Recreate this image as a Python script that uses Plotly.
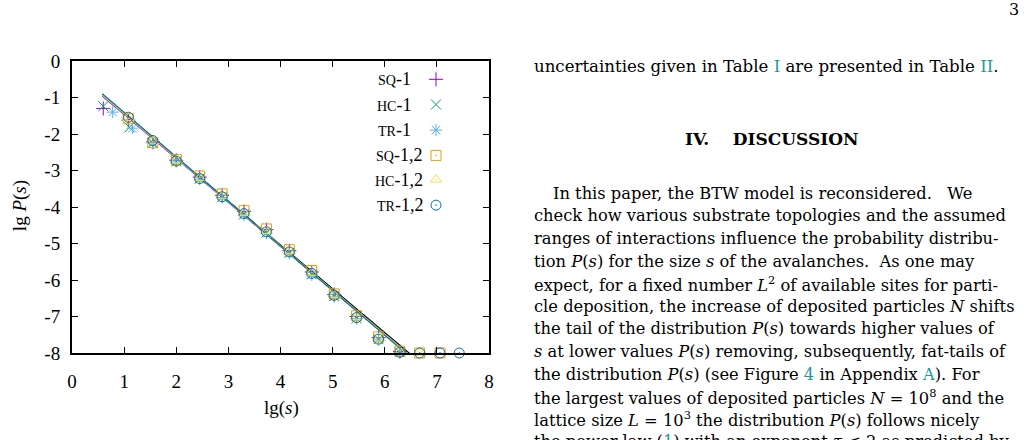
import plotly.graph_objects as go

# ---------------- data ----------------
series_names = ["sq-1", "hc-1", "tr-1", "sq-1,2", "hc-1,2", "tr-1,2"]
series_labels = ["<span style='font-size:14px'>SQ</span>-1",
                 "<span style='font-size:14px'>HC</span>-1",
                 "<span style='font-size:14px'>TR</span>-1",
                 "<span style='font-size:14px'>SQ</span>-1,2",
                 "<span style='font-size:14px'>HC</span>-1,2",
                 "<span style='font-size:14px'>TR</span>-1,2"]
series_colors = ["#9400D3", "#009E73", "#56B4E9", "#E69F00", "#F0E442", "#0072B2"]
series_symbols = ["cross-thin-open", "x-thin-open", "asterisk-open",
                  "square-open-dot", "triangle-up-open-dot", "circle-open-dot"]

sq1_x = [0.60, 1.08, 1.55, 2.00, 2.45, 2.88, 3.30, 3.73, 4.17, 4.60, 5.03, 5.46, 5.88, 6.29]
sq1_y = [-1.30, -1.62, -2.22, -2.72, -3.18, -3.68, -4.12, -4.62, -5.20, -5.78, -6.40, -7.00, -7.58, -7.96]
hc1_x = [0.60, 1.10, 1.55, 2.00, 2.45, 2.88, 3.30, 3.73, 4.17, 4.60, 5.03, 5.46, 5.88, 6.29]
hc1_y = [-1.24, -1.82, -2.24, -2.75, -3.22, -3.72, -4.20, -4.70, -5.25, -5.84, -6.44, -7.05, -7.62, -7.98]
tr1_x = [0.78, 1.16, 1.55, 2.00, 2.45, 2.88, 3.30, 3.73, 4.17, 4.60, 5.03, 5.46, 5.88, 6.29]
tr1_y = [-1.40, -1.84, -2.26, -2.74, -3.24, -3.74, -4.22, -4.72, -5.27, -5.86, -6.46, -7.06, -7.64, -7.99]
sq12_x = [1.08, 1.55, 2.00, 2.45, 2.88, 3.30, 3.73, 4.17, 4.60, 5.03, 5.46, 5.88, 6.29, 6.67, 7.06]
sq12_y = [-1.58, -2.24, -2.70, -3.15, -3.64, -4.10, -4.60, -5.17, -5.74, -6.38, -6.98, -7.56, -7.95, -8.00, -8.00]
hc12_x = [1.08, 1.55, 2.00, 2.45, 2.88, 3.30, 3.73, 4.17, 4.60, 5.03, 5.46, 5.88, 6.29, 6.67]
hc12_y = [-1.56, -2.20, -2.72, -3.20, -3.70, -4.16, -4.66, -5.21, -5.80, -6.41, -7.02, -7.60, -7.97, -8.00]
tr12_x = [1.08, 1.55, 2.00, 2.45, 2.88, 3.30, 3.73, 4.17, 4.60, 5.03, 5.46, 5.88, 6.29, 6.67, 7.06, 7.43]
tr12_y = [-1.54, -2.18, -2.74, -3.22, -3.72, -4.18, -4.68, -5.23, -5.82, -6.42, -7.03, -7.62, -7.98, -8.00, -8.00, -8.00]

series_x = [sq1_x, hc1_x, tr1_x, sq12_x, hc12_x, tr12_x]
series_y = [sq1_y, hc1_y, tr1_y, sq12_y, hc12_y, tr12_y]

# fitted power-law lines lgP = a + b*lg(s)  (black reference line first, drawn underneath)
fit_colors = ["#000000"] + series_colors
fit_intercept = [-0.24, -0.26, -0.22, -0.20, -0.21, -0.23, -0.19]
fit_slope = [-1.200, -1.205, -1.212, -1.218, -1.214, -1.210, -1.220]
fit_range = [0.58, 6.8]

x_ticks = [0, 1, 2, 3, 4, 5, 6, 7, 8]
x_ticklabels = ["0", "1", "2", "3", "4", "5", "6", "7", "8"]
y_ticks = [0, -1, -2, -3, -4, -5, -6, -7, -8]
y_ticklabels = ["0", "-1", "-2", "-3", "-4", "-5", "-6", "-7", "-8"]

TEAL = "#1a9a9a"


def link(t):
    return "<span style='color:" + TEAL + "'>" + t + "</span>"


NB = "\u00a0"
page_number = "3"
para_top = ("uncertainties given in Table " + link("I") + " are presented in Table "
            + link("II") + ".")
heading = "<b>IV." + NB * 4 + "DISCUSSION</b>"
para_lines = [
    "In this paper, the BTW model is reconsidered." + NB * 3 + "We",
    "check how various substrate topologies and the assumed",
    "ranges of interactions influence the probability distribu-",
    "tion <i>P</i>(<i>s</i>) for the size <i>s</i> of the avalanches." + NB * 2 + "As one may",
    "expect, for a fixed number <i>L</i><sup>2</sup> of available sites for parti-",
    "cle deposition, the increase of deposited particles <i>N</i> shifts",
    "the tail of the distribution <i>P</i>(<i>s</i>) towards higher values of",
    "<i>s</i> at lower values <i>P</i>(<i>s</i>) removing, subsequently, fat-tails of",
    "the distribution <i>P</i>(<i>s</i>) (see Figure " + link("4") + " in Appendix "
    + link("A") + ")." + NB + "For",
    "the largest values of deposited particles <i>N</i> = 10<sup>8</sup> and the",
    "lattice size <i>L</i> = 10<sup>3</sup> the distribution <i>P</i>(<i>s</i>) follows nicely",
    "the power law (" + link("1") + ") with an exponent <i>τ</i> ≤ 2 as predicted by",
]

# ---------------- layout geometry ----------------
W, H = 1029, 440
L, R, T, B = 72, 489, 61, 352.7
FONT = "Liberation Serif"
TEXT_FONT = "DejaVu Serif"


def px(xp):
    return (xp - L) / (R - L)


def py(yp):
    return (B - yp) / (B - T)


fig = go.Figure()

# fit lines
for a, b, c in zip(fit_intercept, fit_slope, fit_colors):
    xs = fit_range
    ys = [a + b * v for v in xs]
    fig.add_trace(go.Scatter(x=xs, y=ys, mode="lines",
                             line=dict(color=c, width=1.2),
                             showlegend=False, hoverinfo="skip"))

# data points
for name, xs, ys, c, s in zip(series_names, series_x, series_y, series_colors, series_symbols):
    fig.add_trace(go.Scatter(x=xs, y=ys, mode="markers", name=name,
                             marker=dict(symbol=s, size=10, color=c,
                                         line=dict(color=c, width=1)),
                             cliponaxis=False, showlegend=False))

# custom gnuplot-style key (text left, sample right)
key_rows_y = [79.3, 104.5, 130, 155.3, 179.5, 205]
key_text_right = [413, 413, 413, 424, 425, 425]
key_sample_x = 436
fig.add_trace(go.Scatter(
    x=[px(key_sample_x)] * len(series_names),
    y=[py(v) for v in key_rows_y],
    xaxis="x2", yaxis="y2", mode="markers", showlegend=False, hoverinfo="skip",
    marker=dict(symbol=series_symbols, size=10, color=series_colors,
                line=dict(color=series_colors, width=1)),
    cliponaxis=False))

annotations = []
for lab, yv, xr in zip(series_labels, key_rows_y, key_text_right):
    annotations.append(dict(text=lab, x=px(xr), y=py(yv), xref="paper", yref="paper",
                            xanchor="right", yanchor="middle", showarrow=False,
                            font=dict(family=FONT, size=18, color="black")))

# axis titles
annotations.append(dict(text="lg <i>P</i>(<i>s</i>)", x=px(20), y=py(206), xref="paper", yref="paper",
                        textangle=-90, showarrow=False, xanchor="center", yanchor="middle",
                        font=dict(family=FONT, size=19, color="black")))
annotations.append(dict(text="lg(<i>s</i>)", x=px(281), y=py(408), xref="paper", yref="paper",
                        showarrow=False, xanchor="center", yanchor="middle",
                        font=dict(family=FONT, size=19, color="black")))
annotations.append(dict(text="(a)", x=px(325), y=py(447), xref="paper", yref="paper",
                        showarrow=False, xanchor="center", yanchor="middle",
                        font=dict(family=FONT, size=16, color="black")))

# page text
annotations.append(dict(text=page_number, x=px(1021), y=py(10), xref="paper", yref="paper",
                        showarrow=False, xanchor="right", yanchor="middle",
                        font=dict(family=TEXT_FONT, size=16, color="black")))
annotations.append(dict(text=para_top, x=px(532), y=py(66), xref="paper", yref="paper",
                        showarrow=False, xanchor="left", yanchor="middle",
                        font=dict(family=TEXT_FONT, size=16.6, color="black")))
annotations.append(dict(text=heading, x=px(772), y=py(139), xref="paper", yref="paper",
                        showarrow=False, xanchor="center", yanchor="middle",
                        font=dict(family=TEXT_FONT, size=17, color="black")))
line_y0, line_dy = 193, 22.6
for i, t in enumerate(para_lines):
    annotations.append(dict(text=t, x=px(551 if i == 0 else 532), y=py(line_y0 + i * line_dy),
                            xref="paper", yref="paper", showarrow=False,
                            xanchor="left", yanchor="middle",
                            font=dict(family=TEXT_FONT, size=16.3, color="black")))

axis_common = dict(showline=True, linecolor="black", linewidth=2, mirror="ticks",
                   ticks="inside", ticklen=6, tickwidth=1, tickcolor="black",
                   showgrid=False, zeroline=False,
                   tickfont=dict(family=FONT, size=19, color="black"))

fig.update_layout(
    width=W, height=H,
    margin=dict(l=L, r=W - R, t=T, b=H - B, pad=0),
    paper_bgcolor="white", plot_bgcolor="white",
    showlegend=False,
    xaxis=dict(range=[0, 8], tickvals=x_ticks, ticktext=x_ticklabels,
               ticklabelstandoff=10, **axis_common),
    yaxis=dict(range=[-8, 0], tickvals=y_ticks, ticktext=y_ticklabels,
               ticklabelstandoff=6, **axis_common),
    xaxis2=dict(range=[0, 1], overlaying="x", visible=False, fixedrange=True),
    yaxis2=dict(range=[0, 1], overlaying="y", visible=False, fixedrange=True),
    annotations=annotations,
)

fig.write_html("out.html")
